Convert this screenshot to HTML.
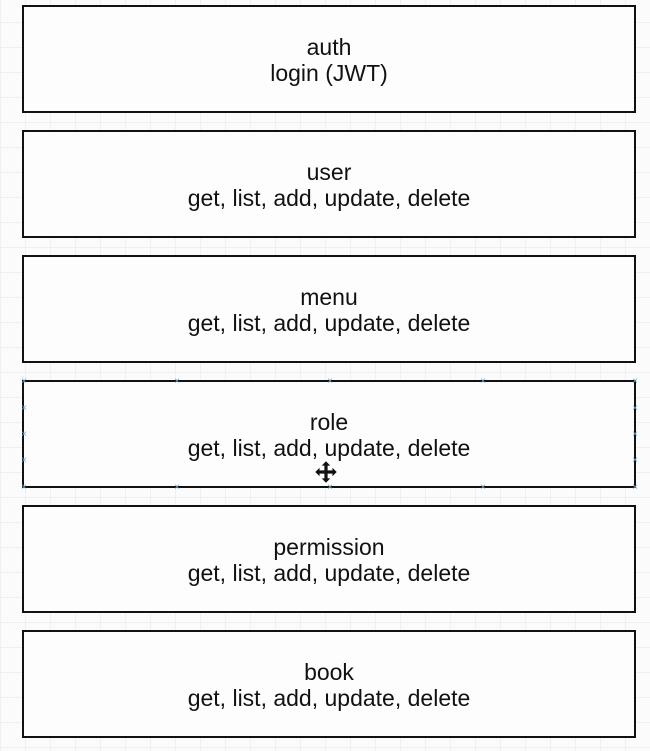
<!DOCTYPE html>
<html><head><style>
html,body{margin:0;padding:0;}
body{width:650px;height:751px;position:relative;overflow:hidden;background-color:#fbfbfb;
background-image:linear-gradient(#f0f0f0 1px,transparent 1px),linear-gradient(90deg,#f0f0f0 1px,transparent 1px);
background-size:25px 25px;background-position:0 -3px;font-family:"Liberation Sans",sans-serif;}
.b{position:absolute;left:22px;width:610px;height:104px;border:2px solid #111;background:#fdfdfd;text-align:center;color:#111;font-size:23px;line-height:26px;box-sizing:content-box;}
.b div{margin-top:27px;}
.x{position:absolute;color:#7aa3c0;font-size:10px;line-height:10px;width:10px;margin-left:-5px;margin-top:-5px;text-align:center;}
</style></head><body>
<div class="b" style="top:5px"><div>auth<br>login (JWT)</div></div>
<div class="b" style="top:130px"><div>user<br>get, list, add, update, delete</div></div>
<div class="b" style="top:255px"><div>menu<br>get, list, add, update, delete</div></div>
<div class="b" style="top:380px"><div>role<br>get, list, add, update, delete</div></div>
<div class="b" style="top:505px"><div>permission<br>get, list, add, update, delete</div></div>
<div class="b" style="top:630px"><div>book<br>get, list, add, update, delete</div></div>
<div class="x" style="left:24px;top:382px">×</div>
<div class="x" style="left:177px;top:382px">×</div>
<div class="x" style="left:330px;top:382px">×</div>
<div class="x" style="left:483px;top:382px">×</div>
<div class="x" style="left:635px;top:382px">×</div>
<div class="x" style="left:24px;top:409px">×</div>
<div class="x" style="left:24px;top:435px">×</div>
<div class="x" style="left:24px;top:461px">×</div>
<div class="x" style="left:635px;top:409px">×</div>
<div class="x" style="left:635px;top:435px">×</div>
<div class="x" style="left:635px;top:461px">×</div>
<div class="x" style="left:24px;top:488px">×</div>
<div class="x" style="left:177px;top:488px">×</div>
<div class="x" style="left:330px;top:488px">×</div>
<div class="x" style="left:483px;top:488px">×</div>
<div class="x" style="left:635px;top:488px">×</div>
<svg style="position:absolute;left:311px;top:457px" width="30" height="30" viewBox="0 0 28 28">
<path d="M14 1 L27 14 L14 27 L1 14 Z" fill="#fff"/>
<path d="M14 4 L18 8 H15.5 V12.5 H20 V10 L24 14 L20 18 V15.5 H15.5 V20 H18 L14 24 L10 20 H12.5 V15.5 H8 V18 L4 14 L8 10 V12.5 H12.5 V8 H10 Z" fill="#111"/>
</svg>
</body></html>
